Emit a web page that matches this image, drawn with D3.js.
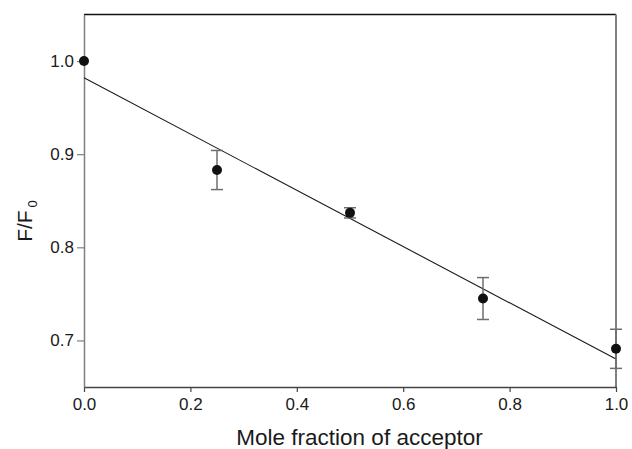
<!DOCTYPE html>
<html>
<head>
<meta charset="utf-8">
<script src="https://cdn.jsdelivr.net/npm/d3@7"></script>
<style>
  body { margin: 0; background: #fff; }
  text { font-family: "Liberation Sans", Arial, sans-serif; fill: #1a1a1a; }
</style>
</head>
<body>
<div id="chart"></div>
<script>
// data
let fractions = [0, 0.25, 0.5, 0.75, 1.0];
let ratios = [1.0, 0.883, 0.837, 0.745, 0.691];
let errors = [0, 0.021, 0.0055, 0.0225, 0.021];
let fitX = [0, 1];
let fitY = [0.982, 0.680];
let xTicks = [0, 0.2, 0.4, 0.6, 0.8, 1.0];
let yTicks = [0.7, 0.8, 0.9, 1.0];

let margin = { top: 14.5, right: 16, bottom: 62, left: 84 };
let svgWidth = 632;
let svgHeight = 449;
let chartWidth = svgWidth - margin.left - margin.right;
let chartHeight = svgHeight - margin.top - margin.bottom;

let svg = d3.select("#chart")
    .append("svg")
    .attr("width", svgWidth)
    .attr("height", svgHeight);

let chartGroup = svg.append("g")
    .attr("transform", `translate(${margin.left},${margin.top})`);

let xScale = d3.scaleLinear().domain([0, 1]).range([0, chartWidth]);
let yScale = d3.scaleLinear().domain([0.65, 1.05]).range([chartHeight, 0]);

// frame: top black, right grey
chartGroup.append("line")
    .attr("x1", 0).attr("x2", chartWidth)
    .attr("y1", 0).attr("y2", 0)
    .attr("stroke", "#111").attr("stroke-width", 1.3);
chartGroup.append("line")
    .attr("x1", chartWidth).attr("x2", chartWidth)
    .attr("y1", 0).attr("y2", chartHeight)
    .attr("stroke", "#808080").attr("stroke-width", 2);

let xAxis = d3.axisBottom(xScale)
    .tickValues(xTicks)
    .tickSizeInner(5)
    .tickSizeOuter(0)
    .tickPadding(6)
    .tickFormat(d3.format(".1f"));
let yAxis = d3.axisLeft(yScale)
    .tickValues(yTicks)
    .tickSizeInner(7)
    .tickSizeOuter(0)
    .tickPadding(3)
    .tickFormat(d3.format(".1f"));

let gx = chartGroup.append("g")
    .attr("transform", `translate(0, ${chartHeight})`)
    .call(xAxis);
gx.select(".domain").attr("stroke", "#444").attr("stroke-width", 1.3);
gx.selectAll(".tick line").attr("stroke", "#444").attr("stroke-width", 1.2);
gx.selectAll("text").style("font-size", "17px").attr("fill", "#1a1a1a");

let gy = chartGroup.append("g").call(yAxis);
gy.select(".domain").attr("stroke", "#808080").attr("stroke-width", 1.5);
gy.selectAll(".tick line").attr("stroke", "#808080").attr("stroke-width", 1.2);
gy.selectAll("text").style("font-size", "17px").attr("fill", "#1a1a1a");

// fitted line
chartGroup.append("line")
    .attr("x1", xScale(fitX[0])).attr("y1", yScale(fitY[0]))
    .attr("x2", xScale(fitX[1])).attr("y2", yScale(fitY[1]))
    .attr("stroke", "#1a1a1a")
    .attr("stroke-width", 1.1);

let data = fractions.map((f, i) => ({ x: f, y: ratios[i], e: errors[i] }));

// error bars
let bars = chartGroup.selectAll(".err")
    .data(data.filter(d => d.e > 0))
    .enter()
    .append("g")
    .attr("class", "err")
    .attr("stroke", "#6e6e6e")
    .attr("stroke-width", 1.5);
bars.append("line")
    .attr("x1", d => xScale(d.x)).attr("x2", d => xScale(d.x))
    .attr("y1", d => yScale(d.y - d.e)).attr("y2", d => yScale(d.y + d.e));
bars.append("line")
    .attr("x1", d => xScale(d.x) - 6).attr("x2", d => xScale(d.x) + 6)
    .attr("y1", d => yScale(d.y + d.e)).attr("y2", d => yScale(d.y + d.e));
bars.append("line")
    .attr("x1", d => xScale(d.x) - 6).attr("x2", d => xScale(d.x) + 6)
    .attr("y1", d => yScale(d.y - d.e)).attr("y2", d => yScale(d.y - d.e));

chartGroup.selectAll("circle")
    .data(data)
    .enter()
    .append("circle")
    .attr("r", 5)
    .attr("cx", d => xScale(d.x))
    .attr("cy", d => yScale(d.y))
    .attr("fill", "#111");

// axis titles
svg.append("text")
    .attr("x", 359.5)
    .attr("y", 445)
    .attr("text-anchor", "middle")
    .style("font-size", "22.5px")
    .text("Mole fraction of acceptor");

let yLabel = svg.append("text")
    .attr("transform", "translate(32, 221) rotate(-90)")
    .attr("text-anchor", "middle")
    .style("font-size", "21px");
yLabel.append("tspan").text("F/F");
yLabel.append("tspan")
    .attr("dx", 3)
    .attr("dy", 5)
    .style("font-size", "13px")
    .text("0");
</script>
</body>
</html>
